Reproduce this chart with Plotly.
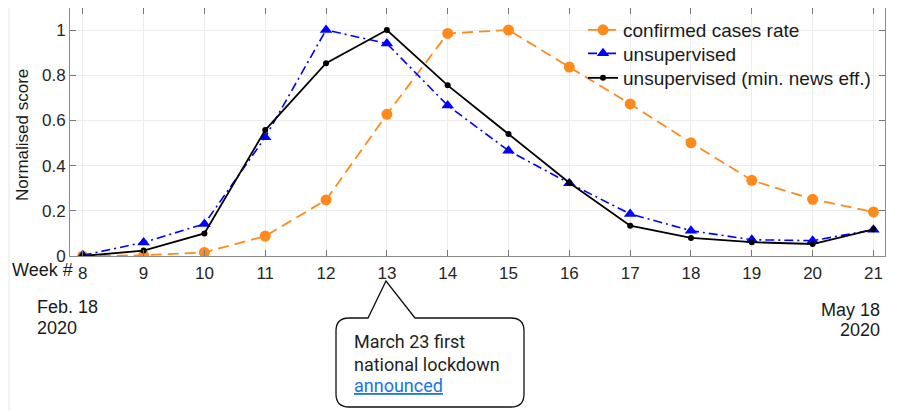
import plotly.graph_objects as go

weeks = [8, 9, 10, 11, 12, 13, 14, 15, 16, 17, 18, 19, 20, 21]
confirmed = [0.0, 0.003, 0.016, 0.088, 0.248, 0.627, 0.985, 1.0, 0.836, 0.673, 0.501, 0.335, 0.251, 0.195]
unsupervised = [0.003, 0.06, 0.142, 0.525, 1.0, 0.94, 0.666, 0.466, 0.322, 0.186, 0.112, 0.072, 0.068, 0.116]
unsup_min_news = [0.0, 0.024, 0.1, 0.557, 0.853, 1.0, 0.755, 0.54, 0.324, 0.134, 0.08, 0.061, 0.053, 0.118]
y_ticks = [0, 0.2, 0.4, 0.6, 0.8, 1]
y_tick_labels = ["0", "0.2", "0.4", "0.6", "0.8", "1"]
series_names = ["confirmed cases rate", "unsupervised", "unsupervised (min. news eff.)"]

# page body has an 8px margin, so the figure starts at (8, 8) in the screenshot
OFF = 8
SW, SH = 898, 411
W, H = SW - OFF, SH - OFF
L, R, T, B = 70, 885, 8, 256  # plot area in screenshot pixels


def px(x):
    return (x - L) / (R - L)


def py(y):
    return (B - y) / (B - T)


fig = go.Figure()
fig.add_trace(go.Scatter(
    x=weeks, y=confirmed, name=series_names[0], mode="lines+markers",
    line=dict(color="#FF8A1C", width=1.8, dash="11px,6px"),
    marker=dict(symbol="circle", size=11, color="#FF8A1C"),
    legend="legend",
))
fig.add_trace(go.Scatter(
    x=weeks, y=unsupervised, name=series_names[1], mode="lines+markers",
    line=dict(color="#0000FF", width=1.6, dash="9px,4px,2px,4px"),
    marker=dict(symbol="triangle-up", size=11, color="#0000FF"),
    legend="legend2",
))
fig.add_trace(go.Scatter(
    x=weeks, y=unsup_min_news, name=series_names[2], mode="lines+markers",
    line=dict(color="#000000", width=1.8),
    marker=dict(symbol="circle", size=6, color="#000000"),
    legend="legend3",
))

axis_common = dict(
    showline=True, linecolor="#8a8a8a", linewidth=1, mirror="ticks",
    ticks="inside", ticklen=6, tickcolor="#777777",
    showgrid=True, gridcolor="#ececec", gridwidth=1, zeroline=False,
    tickfont=dict(family="Liberation Sans, Arial", size=17, color="#262626"),
)

fig.update_xaxes(range=[7.79, 21.19], tickvals=weeks, ticktext=[str(w) for w in weeks],
                 ticklabelstandoff=2, **axis_common)
fig.update_yaxes(range=[0, 1 + (30 - T) / 226], tickvals=y_ticks, ticktext=y_tick_labels,
                 **axis_common)

txt_font = dict(family="Liberation Sans, Arial", size=18, color="#1a1a1a")
annotations = [
    dict(x=px(22), y=py(135), text="Normalised score", textangle=-90, showarrow=False,
         xref="paper", yref="paper", xanchor="center", yanchor="middle",
         font=dict(family="Liberation Sans, Arial", size=17, color="#1a1a1a")),
    dict(x=px(75), y=py(270), text="Week #", showarrow=False, xref="paper", yref="paper",
         xanchor="right", yanchor="middle", font=txt_font),
    dict(x=px(35), y=py(306.5), text="Feb. 18", showarrow=False, xref="paper", yref="paper",
         xanchor="left", yanchor="middle", font=txt_font),
    dict(x=px(35), y=py(328), text="2020", showarrow=False, xref="paper", yref="paper",
         xanchor="left", yanchor="middle", font=txt_font),
    dict(x=px(882), y=py(310), text="May 18", showarrow=False, xref="paper", yref="paper",
         xanchor="right", yanchor="middle", font=txt_font),
    dict(x=px(882), y=py(330), text="2020", showarrow=False, xref="paper", yref="paper",
         xanchor="right", yanchor="middle", font=txt_font),
]
for text, yy, col in [("March 23 first", 341.7, "#1f1f1f"),
                      ("national lockdown", 364, "#1f1f1f"),
                      ("<u>announced</u>", 385.5, "#1a73e8")]:
    annotations.append(dict(x=px(352), y=py(yy), text=text, showarrow=False, xref="paper", yref="paper",
                            xanchor="left", yanchor="middle",
                            font=dict(family="Roboto", size=18, color=col)))

# callout bubble
x0, x1, y0, y1, r = 336, 524, 318, 407, 13
bl, tipx, tipy, br = 368, 386, 281, 415
path = (
    f"M {px(x0 + r)},{py(y0)} L {px(bl)},{py(y0)} L {px(tipx)},{py(tipy)} L {px(br)},{py(y0)} "
    f"L {px(x1 - r)},{py(y0)} Q {px(x1)},{py(y0)} {px(x1)},{py(y0 + r)} "
    f"L {px(x1)},{py(y1 - r)} Q {px(x1)},{py(y1)} {px(x1 - r)},{py(y1)} "
    f"L {px(x0 + r)},{py(y1)} Q {px(x0)},{py(y1)} {px(x0)},{py(y1 - r)} "
    f"L {px(x0)},{py(y0 + r)} Q {px(x0)},{py(y0)} {px(x0 + r)},{py(y0)} Z"
)
shapes = [
    dict(type="path", path=path, xref="paper", yref="paper",
         line=dict(color="#111111", width=1.3), fillcolor="white", layer="above"),
    # left gray strip and right dark border of the screenshot
    dict(type="rect", xref="paper", yref="paper", x0=px(0), x1=px(10), y0=py(SH), y1=py(0),
         fillcolor="#f1f3f4", line=dict(width=0), layer="above"),
    dict(type="rect", xref="paper", yref="paper", x0=px(894.5), x1=px(898), y0=py(SH), y1=py(0),
         fillcolor="#111111", line=dict(width=0), layer="above"),
    # small blank patch over the grid near the top-left
    dict(type="rect", xref="paper", yref="paper", x0=px(87), x1=px(113), y0=py(55), y1=py(22),
         fillcolor="white", line=dict(width=0), layer="between"),
]

leg_common = dict(xanchor="left", yanchor="middle", bgcolor="rgba(0,0,0,0)", borderwidth=0,
                  font=dict(family="Liberation Sans, Arial", size=19, color="#1a1a1a"),
                  itemwidth=30)

fig.update_layout(
    width=W, height=H,
    margin=dict(l=L - OFF, r=SW - R, t=T - OFF, b=SH - B, autoexpand=False),
    paper_bgcolor="white", plot_bgcolor="white",
    showlegend=True,
    legend=dict(x=px(583), y=py(30), **leg_common),
    legend2=dict(x=px(583), y=py(53.5), **leg_common),
    legend3=dict(x=px(583), y=py(78), **leg_common),
    annotations=annotations,
    shapes=shapes,
)

fig.write_html("out.html")
